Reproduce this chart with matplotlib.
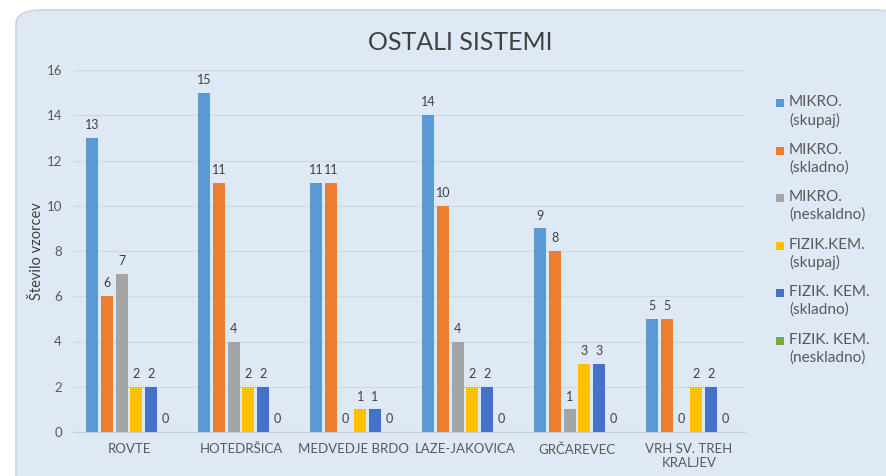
import matplotlib.pyplot as plt
import numpy as np
from matplotlib.patches import FancyBboxPatch, Rectangle

plt.rcParams['font.family'] = ['Lato', 'DejaVu Sans']

locations = ['ROVTE', 'HOTEDRŠICA', 'MEDVEDJE BRDO', 'LAZE-JAKOVICA',
             'GRČAREVEC', 'VRH SV. TREH\nKRALJEV']
series_names = ['MIKRO.\n(skupaj)', 'MIKRO.\n(skladno)', 'MIKRO.\n(neskaldno)',
                'FIZIK.KEM.\n(skupaj)', 'FIZIK. KEM.\n(skladno)', 'FIZIK. KEM.\n(neskladno)']
mikro_skupaj = [13, 15, 11, 14, 9, 5]
mikro_skladno = [6, 11, 11, 10, 8, 5]
mikro_neskladno = [7, 4, 0, 4, 1, 0]
fizkem_skupaj = [2, 2, 1, 2, 3, 2]
fizkem_skladno = [2, 2, 1, 2, 3, 2]
fizkem_neskladno = [0, 0, 0, 0, 0, 0]
series = [mikro_skupaj, mikro_skladno, mikro_neskladno,
          fizkem_skupaj, fizkem_skladno, fizkem_neskladno]
colors = ['#5B9BD5', '#ED7D31', '#A5A5A5', '#FFC000', '#4472C4', '#70AD47']

fig = plt.figure(figsize=(8.86, 4.76), dpi=100)
fig.patch.set_facecolor('white')

# rounded chart frame
W, H = 886, 476
frame = FancyBboxPatch((16 / W, -0.1), 1.0, 1 - 10 / H + 0.1,
                       boxstyle='round,pad=0,rounding_size=0.03',
                       transform=fig.transFigure, facecolor='#DEE9F5',
                       edgecolor='#D0D4D8', linewidth=1.2, zorder=-5)
fig.patches.append(frame)

ax = fig.add_axes([73 / W, 1 - 432 / H, (745 - 73) / W, (432 - 70) / H])
ax.set_facecolor('none')
ax.set_zorder(2)

x = np.arange(len(locations))
step = 0.131
width = 0.107
for i, (vals, col, name) in enumerate(zip(series, colors, series_names)):
    pos = x + (i - 2.5) * step
    ax.bar(pos, vals, width, color=col, label=name, zorder=3)
    for p, v in zip(pos, vals):
        ax.text(p, v + 0.3, str(v), ha='center', va='bottom',
                fontsize=9, color='#404040', zorder=4)

ax.set_ylim(0, 16)
ax.set_xlim(-0.5, len(locations) - 0.5)
ax.set_yticks(range(0, 17, 2))
ax.set_xticks(x)
ax.set_xticklabels(locations)
ax.tick_params(axis='both', length=0, colors='#595959', labelsize=9.5)
ax.tick_params(axis='x', pad=8)
ax.tick_params(axis='y', pad=8)
ax.grid(axis='y', color='#D0D8E0', linewidth=0.9, zorder=0)
for s in ['top', 'right', 'left']:
    ax.spines[s].set_visible(False)
ax.spines['bottom'].set_color('#C8CDD2')

ax.set_ylabel('Število vzorcev', fontsize=10.5, color='#404040', labelpad=2)
fig.text(460 / W, 1 - 42 / H, 'OSTALI SISTEMI', ha='center', va='center',
         fontsize=18, color='#404040')

# legend: square aligned with the first line of each two-line label
for i, (name, col) in enumerate(zip(series_names, colors)):
    yc = 103 + i * 47.6
    fig.patches.append(Rectangle((776 / W, 1 - (yc + 4) / H), 8 / W, 8 / H,
                                 transform=fig.transFigure, facecolor=col,
                                 edgecolor='none', zorder=3))
    fig.text(789 / W, 1 - (yc - 8) / H, name, ha='left', va='top',
             fontsize=11, color='#595959', linespacing=1.3)

fig.savefig('out.png', dpi=100)
